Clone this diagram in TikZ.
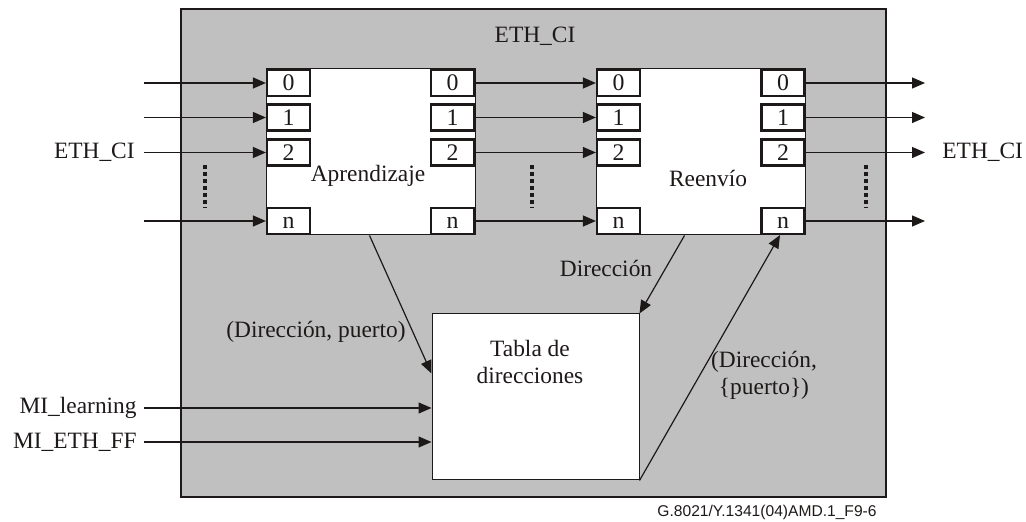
\documentclass[tikz,border=0pt]{standalone}
\usepackage{fontspec}
\setmainfont{Liberation Serif}
\setsansfont{Liberation Sans}
\usetikzlibrary{arrows.meta}
\definecolor{panel}{RGB}{192,192,192}
\definecolor{ink}{RGB}{30,25,25}
\begin{document}
\begin{tikzpicture}[x=0.5pt,y=-0.5pt,
  every node/.style={text=ink},
  lbl/.style={font=\fontsize{11.7}{13.5}\selectfont, inner sep=0pt, align=center},
  blk/.style={draw=ink, fill=white, line width=0.5pt, inner sep=0pt},
  port/.style={draw=ink, fill=white, line width=1.1pt, minimum width=21.5pt,
    minimum height=13pt, inner sep=0pt, text height=7.9pt, text depth=0pt,
    font=\fontsize{11.9}{13.5}\selectfont},
  arr/.style={draw=ink, -{Triangle[length=6.5pt,width=5.5pt]}, line width=0.6pt},
  dots/.style={draw=ink, line width=1.6pt, dash pattern=on 2.2pt off 1.3pt}]
\useasboundingbox (0,0) rectangle (1026,522);

% surrounding ETH_CI function
\node[draw=ink, fill=panel, line width=0.7pt, minimum width=352.5pt, minimum height=244pt,
  inner sep=0pt] (panel) at (533.5,253) {};
\node[lbl] (title) at (535,36) {ETH\_CI};

% learning and forwarding processes, address table
\node[blk, minimum width=104.5pt, minimum height=83pt] (learn) at (370.5,152) {};
\node[blk, minimum width=104.5pt, minimum height=83pt] (fwd) at (700.5,152) {};
\node[blk, minimum width=103.5pt, minimum height=83pt] (tbl) at (535.5,397) {};

\node[lbl, anchor=base] (learnlbl) at (368,182) {Aprendizaje};
\node[lbl, anchor=base] (fwdlbl) at (708,187) {Reenvío};
\node[lbl, anchor=base] (tbllbl) at (530,384) {Tabla de\\direcciones};

% ports and flows through them
\foreach \p/\yy in {0/83,1/117.5,2/152.5,n/221} {
  \node[port] (la\p) at (288.5,\yy) {\p};
  \node[port] (lb\p) at (452.5,\yy) {\p};
  \node[port] (fa\p) at (618.5,\yy) {\p};
  \node[port] (fb\p) at (783,\yy) {\p};
  \coordinate (in\p) at (144,\yy);
  \coordinate (out\p) at (925,\yy);
  \draw[arr] (in\p) -- (la\p.west);
  \draw[arr] (lb\p.east) -- (fa\p.west);
  \draw[arr] (fb\p.east) -- (out\p);
}

% ellipsis between port 2 and port n
\draw[dots] (205,165) -- (205,208);
\draw[dots] (532,165) -- (532,208);
\draw[dots] (866,165) -- (866,208);

\node[lbl, anchor=east] (ethin) at (135,152) {ETH\_CI};
\node[lbl, anchor=west] (ethout) at (942,152) {ETH\_CI};

% management inputs
\coordinate (mil) at (144,408);
\coordinate (mif) at (144,442);
\draw[arr] (mil) -- (mil -| tbl.west);
\draw[arr] (mif) -- (mif -| tbl.west);
\node[lbl, anchor=east] (mill) at (137,408) {MI\_learning};
\node[lbl, anchor=east] (mifl) at (137,442) {MI\_ETH\_FF};

% table lookups
\draw[arr] ([xshift=52pt]learn.south west) -- ([yshift=-30pt]tbl.north west);
\draw[arr] ([xshift=44.5pt]fwd.south west) -- (tbl.north east);
\draw[arr] (tbl.south east) -- ([xshift=-1.5pt]fbn.south);

\node[lbl, anchor=base] (lk1) at (316,338) {(Dirección, puerto)};
\node[lbl, anchor=base] (lk2) at (606,277) {Dirección};
\node[lbl, anchor=base] (lk3) at (764,395) {(Dirección,\\\{puerto\})};

\node[font=\sffamily\fontsize{7.8}{9}\selectfont, inner sep=0pt] (ref) at (767,512)
  {G.8021/Y.1341(04)AMD.1\_F9-6};
\end{tikzpicture}
\end{document}
